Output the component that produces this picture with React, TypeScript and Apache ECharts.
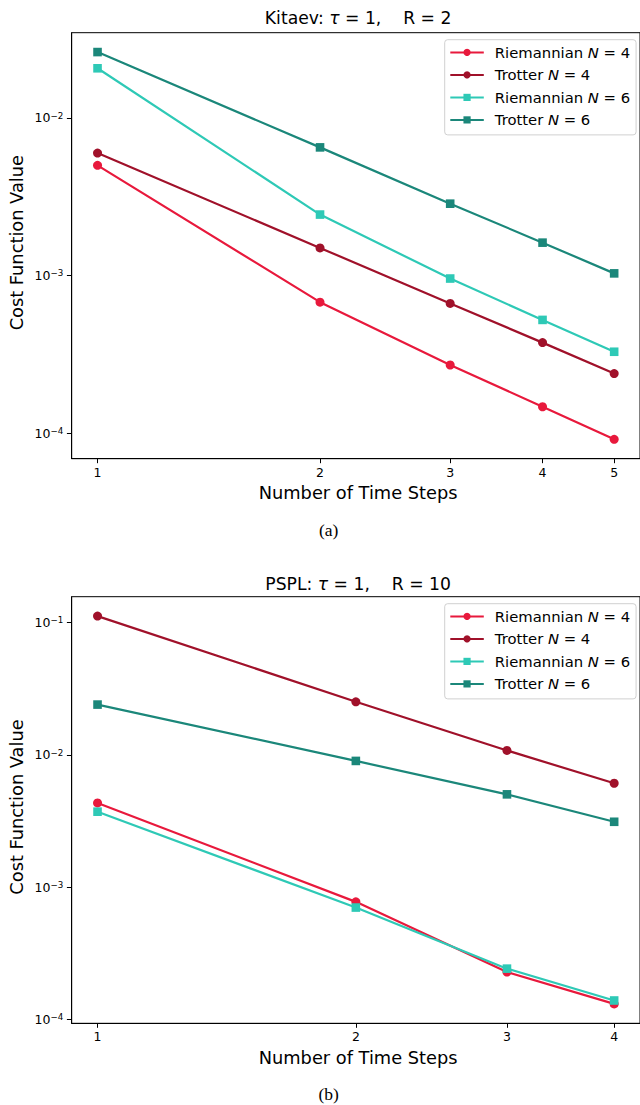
import React, { useEffect, useRef } from 'react';
import * as echarts from 'echarts';

// ---------- data ----------
const stepsA = [1, 2, 3, 4, 5];
const riemann4A = [5.0e-3, 6.8e-4, 2.72e-4, 1.48e-4, 9.2e-5];
const trotter4A = [5.98e-3, 1.5e-3, 6.68e-4, 3.77e-4, 2.4e-4];
const riemann6A = [2.06e-2, 2.44e-3, 9.6e-4, 5.25e-4, 3.3e-4];
const trotter6A = [2.61e-2, 6.5e-3, 2.86e-3, 1.62e-3, 1.035e-3];

const stepsB = [1, 2, 3, 4];
const riemann4B = [4.33e-3, 7.74e-4, 2.28e-4, 1.31e-4];
const trotter4B = [0.112, 0.0252, 0.0108, 6.1e-3];
const riemann6B = [3.72e-3, 7.01e-4, 2.42e-4, 1.39e-4];
const trotter6B = [0.024, 9.0e-3, 5.03e-3, 3.12e-3];

const seriesNames = ['Riemannian N = 4', 'Trotter N = 4', 'Riemannian N = 6', 'Trotter N = 6'];
const xTicksA = [1, 2, 3, 4, 5];
const xTicksB = [1, 2, 3, 4];
const yMajorA = [1e-4, 1e-3, 1e-2];
const yMajorB = [1e-4, 1e-3, 1e-2, 1e-1];
const titlesText = ['Kitaev: {i|τ} = 1,    R = 2', 'PSPL: {i|τ} = 1,    R = 10'];
const captions = ['(a)', '(b)'];
const xAxisTitle = 'Number of Time Steps';
const yAxisTitle = 'Cost Function Value';

// ---------- style ----------
const colors = ['#e8193c', '#a0112a', '#2ec9b6', '#1b877a'];
const symbols = ['circle', 'circle', 'rect', 'rect'];
const symbolSizes = [9, 9, 8.6, 8.6];
const FONT = 'DejaVu Sans';
const gridLeft = 71.7;
const gridWidth = 572.8;
const gridTops = [32.7, 596.7];
const gridHeights = [426.0, 426.6];
const titleOffsets = [15, 13];

function logRange(vals: number[]): [number, number] {
  const l = vals.map((v) => Math.log10(v));
  const lo = Math.min(...l);
  const hi = Math.max(...l);
  const m = (hi - lo) * 0.05;
  return [Math.pow(10, lo - m), Math.pow(10, hi + m)];
}

function minorTicks(min: number, max: number): number[] {
  const out: number[] = [];
  for (let k = Math.floor(Math.log10(min)); k <= Math.ceil(Math.log10(max)); k++) {
    for (let m = 2; m <= 9; m++) {
      const v = m * Math.pow(10, k);
      if (v >= min && v <= max) out.push(v);
    }
  }
  return out;
}

const panels = [
  { steps: stepsA, values: [riemann4A, trotter4A, riemann6A, trotter6A], xTicks: xTicksA, yMajor: yMajorA },
  { steps: stepsB, values: [riemann4B, trotter4B, riemann6B, trotter6B], xTicks: xTicksB, yMajor: yMajorB },
];

function buildOption() {
  const grid: any[] = [];
  const xAxis: any[] = [];
  const yAxis: any[] = [];
  const series: any[] = [];
  const legend: any[] = [];
  const graphic: any[] = [];

  panels.forEach((p, pi) => {
    const top = gridTops[pi];
    const h = gridHeights[pi];
    grid.push({
      left: gridLeft, top, width: gridWidth, height: h,
      show: true, borderColor: '#000', borderWidth: 1, backgroundColor: 'transparent',
    });
    const [xmin, xmax] = logRange(p.steps);
    const [ymin, ymax] = logRange(p.values.flat());
    xAxis.push({
      type: 'log', logBase: 10, gridIndex: pi, min: xmin, max: xmax,
      axisLine: { show: true, lineStyle: { color: '#000', width: 1 } },
      axisTick: { show: true, customValues: p.xTicks, length: 4.5, lineStyle: { color: '#000', width: 1 } },
      axisLabel: {
        show: true, customValues: p.xTicks, margin: 7, fontSize: 12.5, fontFamily: FONT, color: '#000',
        formatter: (v: number) => String(Math.round(v)),
      },
      splitLine: { show: false }, minorTick: { show: false },
    });
    yAxis.push({
      type: 'log', logBase: 10, gridIndex: pi, min: ymin, max: ymax,
      axisLine: { show: true, lineStyle: { color: '#000', width: 1 } },
      axisTick: { show: true, customValues: p.yMajor, length: 4.8, lineStyle: { color: '#000', width: 1 } },
      axisLabel: {
        show: true, customValues: p.yMajor, margin: 8.5, fontSize: 12.5, fontFamily: FONT, color: '#000',
        formatter: (v: number) => '10{sup|−' + String(-Math.round(Math.log10(v))) + '}',
        rich: { sup: { fontSize: 8.7, fontFamily: FONT, color: '#000', padding: [0, 0, 4.5, 0] } },
      },
      splitLine: { show: false },
    });
    yAxis.push({
      type: 'log', logBase: 10, gridIndex: pi, min: ymin, max: ymax,
      axisLine: { show: false },
      axisTick: { show: true, customValues: minorTicks(ymin, ymax), length: 2.8, lineStyle: { color: '#000', width: 0.8 } },
      axisLabel: { show: false },
      splitLine: { show: false },
    });
    p.values.forEach((vals, si) => {
      series.push({
        type: 'line', name: seriesNames[si], xAxisIndex: pi, yAxisIndex: pi * 2,
        data: p.steps.map((s, j) => [s, vals[j]]),
        symbol: symbols[si], symbolSize: symbolSizes[si],
        showSymbol: true,
        lineStyle: { color: colors[si], width: 2.2 },
        itemStyle: { color: colors[si] },
        emphasis: { disabled: true },
        z: 2 + si,
      });
    });
    legend.push({
      data: seriesNames, orient: 'vertical', left: 444.7, top: top + 7,
      padding: [4.7, 6, 7, 4.6], itemGap: 6.5, itemWidth: 33.5, itemHeight: 9,
      backgroundColor: 'rgba(255,255,255,0.85)', borderColor: '#d0d0d0', borderWidth: 1, borderRadius: 3,
      selectedMode: false,
      textStyle: {
        fontSize: 14.8, fontFamily: FONT, color: '#000', lineHeight: 16, padding: [0, 0, 0, 6],
        rich: { i: { fontSize: 14.8, fontFamily: FONT, fontStyle: 'italic', color: '#000', lineHeight: 16 } },
      },
      formatter: (name: string) => name.replace('N', '{i|N}'),
    });
    const cx = gridLeft + gridWidth / 2;
    graphic.push({
      type: 'text', x: cx, y: top - titleOffsets[pi],
      style: {
        text: titlesText[pi], fill: '#000', fontSize: 17.2, fontFamily: FONT, align: 'center', verticalAlign: 'middle',
        rich: { i: { fontStyle: 'italic', fontSize: 17.2, fontFamily: FONT } },
      },
    });
    graphic.push({
      type: 'text', x: cx, y: top + h + 34,
      style: { text: xAxisTitle, fill: '#000', fontSize: 17.8, fontFamily: FONT, align: 'center', verticalAlign: 'middle' },
    });
    graphic.push({
      type: 'text', x: 16.5, y: top + h / 2 - 3, rotation: Math.PI / 2,
      style: { text: yAxisTitle, fill: '#000', fontSize: 17.8, fontFamily: FONT, align: 'center', verticalAlign: 'middle' },
    });
    graphic.push({
      type: 'text', x: 328.6, y: top + h + 71,
      style: { text: captions[pi], fill: '#000', fontSize: 17.5, fontFamily: 'Liberation Serif', align: 'center', verticalAlign: 'middle' },
    });
  });

  return { animation: false, backgroundColor: '#fff', grid, xAxis, yAxis, series, legend, graphic };
}

export default function App() {
  const ref = useRef<HTMLDivElement>(null);
  useEffect(() => {
    const chart = echarts.init(ref.current!, null, { renderer: 'svg', width: 640, height: 1105 });
    chart.setOption(buildOption() as any);
    return () => chart.dispose();
  }, []);
  return (
    <div
      ref={ref}
      style={{ position: 'absolute', left: 0, top: 0, width: 640, height: 1105, background: '#fff' }}
    />
  );
}
